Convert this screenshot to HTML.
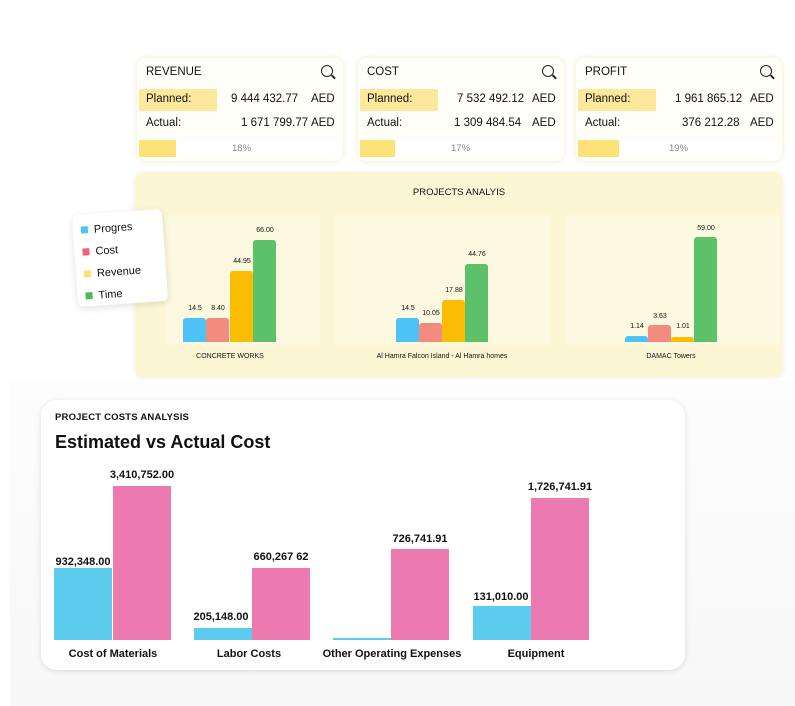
<!DOCTYPE html>
<html><head><style>
*{margin:0;padding:0;box-sizing:border-box}
body{width:795px;height:706px;position:relative;overflow:hidden;background:#fff;font-family:"Liberation Sans",sans-serif;color:#111}
.abs{position:absolute}
.bgg{left:10px;top:380px;width:785px;height:326px;background:linear-gradient(#fdfdfd,#f7f7f8)}
.card{position:absolute;top:58px;width:206px;height:103px;border-radius:8px;box-shadow:0 0 6px rgba(230,220,170,.6);background:#fffef8}
.card .h{position:absolute;left:9px;top:8px;font-size:11.5px}
.card .q{position:absolute;right:10px;top:7px;width:12px;height:12px;border:1.6px solid #222;border-radius:50%}
.card .q:after{content:"";position:absolute;left:9px;top:10px;width:5px;height:1.6px;background:#222;transform:rotate(45deg)}
.row{position:absolute;left:2px;width:200px;height:22px;font-size:11.5px}
.row span{position:absolute;top:4px}
.hl{position:absolute;left:0;top:0;width:78px;height:22px;background:#fde89c}
.bar{position:absolute;left:2px;top:82px;width:200px;height:17px;background:#fff}
.bar i{position:absolute;left:0;top:0;height:17px;background:#fde27a}
.bar b{position:absolute;top:3px;font-weight:normal;font-size:9.5px;color:#888}
.panel{left:135px;top:172px;width:648px;height:205px;background:#fdf6d4;border-radius:8px;box-shadow:0 1px 5px rgba(0,0,0,.08)}
.sub{position:absolute;top:215px;height:130px;background:#fdf8e0}
.v{position:absolute;width:23px;border-radius:3px 3px 0 0}
.lab{position:absolute;font-size:7px;text-align:center;width:40px;margin-left:-8px}
.gl{position:absolute;font-size:7px;top:353px;text-align:center}
.legend{left:75px;top:212px;width:90px;height:92px;background:#fff;border-radius:6px;box-shadow:0 2px 8px rgba(0,0,0,.12);transform:rotate(-4deg);font-size:11px}
.legend div{position:absolute;left:8px}
.legend i{display:inline-block;width:7px;height:7px;margin-right:6px}
.big{left:41px;top:400px;width:644px;height:270px;background:#fff;border-radius:16px;box-shadow:0 1px 6px rgba(0,0,0,.12)}
.cb{position:absolute;width:58px}
.cl{position:absolute;font-size:11px;font-weight:bold;text-align:center;width:120px}
</style></head><body>
<div class="abs bgg"></div>

<div class="card" style="left:137px">
<div class="h">REVENUE</div><div class="q"></div>
<div class="row" style="top:31px"><div class="hl"></div><span style="left:7px">Planned:</span><span style="left:92px">9 444 432.77</span><span style="left:172px">AED</span></div>
<div class="row" style="top:55px"><span style="left:7px">Actual:</span><span style="left:102px">1 671 799.77</span><span style="left:172px">AED</span></div>
<div class="bar"><i style="width:37px"></i><b style="left:93px">18%</b></div></div>

<div class="card" style="left:358px">
<div class="h">COST</div><div class="q"></div>
<div class="row" style="top:31px"><div class="hl"></div><span style="left:7px">Planned:</span><span style="left:97px">7 532 492.12</span><span style="left:172px">AED</span></div>
<div class="row" style="top:55px"><span style="left:7px">Actual:</span><span style="left:94px">1 309 484.54</span><span style="left:172px">AED</span></div>
<div class="bar"><i style="width:35px"></i><b style="left:91px">17%</b></div></div>

<div class="card" style="left:576px">
<div class="h">PROFIT</div><div class="q"></div>
<div class="row" style="top:31px"><div class="hl"></div><span style="left:7px">Planned:</span><span style="left:97px">1 961 865.12</span><span style="left:172px">AED</span></div>
<div class="row" style="top:55px"><span style="left:7px">Actual:</span><span style="left:104px">376 212.28</span><span style="left:172px">AED</span></div>
<div class="bar"><i style="width:41px"></i><b style="left:91px">19%</b></div></div>

<div class="abs panel"></div>
<div class="abs" style="left:135px;top:187px;width:648px;text-align:center;font-size:9.5px">PROJECTS ANALYIS</div>
<div class="sub" style="left:165px;width:155px"></div>
<div class="sub" style="left:335px;width:215px"></div>
<div class="sub" style="left:565px;width:215px"></div>

<div class="v" style="left:183px;top:318px;height:24px;background:#4fc3f7"></div>
<div class="v" style="left:206px;top:318px;height:24px;background:#f38b7f"></div>
<div class="v" style="left:230px;top:271px;height:71px;background:#fbbc04"></div>
<div class="v" style="left:253px;top:240px;height:102px;background:#5dc16a"></div>
<div class="lab" style="left:183px;top:305px">14.5</div>
<div class="lab" style="left:206px;top:305px">8.40</div>
<div class="lab" style="left:230px;top:258px">44.95</div>
<div class="lab" style="left:253px;top:227px">66.00</div>
<div class="gl" style="left:170px;width:120px">CONCRETE WORKS</div>

<div class="v" style="left:396px;top:318px;height:24px;background:#4fc3f7"></div>
<div class="v" style="left:419px;top:323px;height:19px;background:#f38b7f"></div>
<div class="v" style="left:442px;top:300px;height:42px;background:#fbbc04"></div>
<div class="v" style="left:465px;top:264px;height:78px;background:#5dc16a"></div>
<div class="lab" style="left:396px;top:305px">14.5</div>
<div class="lab" style="left:419px;top:310px">10.05</div>
<div class="lab" style="left:442px;top:287px">17.88</div>
<div class="lab" style="left:465px;top:251px">44.76</div>
<div class="gl" style="left:357px;width:170px">Al Hamra Falcon Island - Al Hamra homes</div>

<div class="v" style="left:625px;top:336px;height:6px;background:#4fc3f7"></div>
<div class="v" style="left:648px;top:325px;height:17px;background:#f38b7f"></div>
<div class="v" style="left:671px;top:337px;height:5px;background:#fbbc04"></div>
<div class="v" style="left:694px;top:237px;height:105px;background:#5dc16a"></div>
<div class="lab" style="left:625px;top:323px">1.14</div>
<div class="lab" style="left:648px;top:313px">3.63</div>
<div class="lab" style="left:671px;top:323px">1.01</div>
<div class="lab" style="left:694px;top:225px">59.00</div>
<div class="gl" style="left:611px;width:120px">DAMAC Towers</div>

<div class="abs legend">
<div style="top:10px"><i style="background:#4fc3f7"></i>Progres</div>
<div style="top:32px"><i style="background:#f0607a"></i>Cost</div>
<div style="top:54px"><i style="background:#fde27a"></i>Revenue</div>
<div style="top:76px"><i style="background:#4cb95c"></i>Time</div>
</div>

<div class="abs big"></div>
<div class="abs" style="left:55px;top:412px;font-size:9.5px;font-weight:bold;letter-spacing:.2px">PROJECT COSTS ANALYSIS</div>
<div class="abs" style="left:55px;top:432px;font-size:18px;font-weight:bold">Estimated vs Actual Cost</div>

<div class="cb" style="left:54px;top:568px;height:72px;background:#5bcbee"></div>
<div class="cb" style="left:113px;top:486px;height:154px;background:#ec79b0"></div>
<div class="cb" style="left:194px;top:628px;height:12px;background:#5bcbee"></div>
<div class="cb" style="left:252px;top:568px;height:72px;background:#ec79b0"></div>
<div class="cb" style="left:333px;top:638px;height:2px;background:#5bcbee"></div>
<div class="cb" style="left:391px;top:549px;height:91px;background:#ec79b0"></div>
<div class="cb" style="left:473px;top:606px;height:34px;background:#5bcbee"></div>
<div class="cb" style="left:531px;top:498px;height:142px;background:#ec79b0"></div>

<div class="cl" style="left:23px;top:556px">932,348.00</div>
<div class="cl" style="left:82px;top:469px">3,410,752.00</div>
<div class="cl" style="left:161px;top:611px">205,148.00</div>
<div class="cl" style="left:221px;top:551px">660,267 62</div>
<div class="cl" style="left:360px;top:533px">726,741.91</div>
<div class="cl" style="left:441px;top:591px">131,010.00</div>
<div class="cl" style="left:500px;top:481px">1,726,741.91</div>

<div class="cl" style="left:53px;top:648px">Cost of Materials</div>
<div class="cl" style="left:189px;top:648px">Labor Costs</div>
<div class="cl" style="left:322px;top:648px;width:140px">Other Operating Expenses</div>
<div class="cl" style="left:476px;top:648px">Equipment</div>
</body></html>
